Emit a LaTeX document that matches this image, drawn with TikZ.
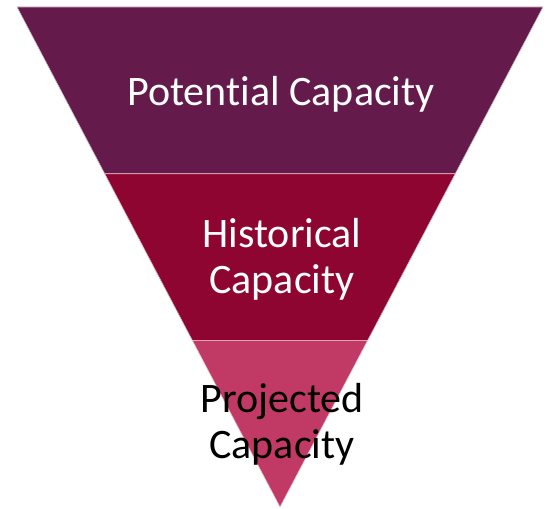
\documentclass[tikz,border=0pt]{standalone}
\usepackage{fontspec}
\setmainfont[Ligatures=NoCommon]{Carlito}
\usepackage{tikz}

\definecolor{bandtop}{RGB}{100,26,74}
\definecolor{bandmid}{RGB}{142,5,50}
\definecolor{bandlow}{RGB}{193,58,102}

\begin{document}
\begin{tikzpicture}[x=1pt, y=-1pt,
    label/.style={font=\fontsize{42}{46}\selectfont, align=center, inner sep=0pt}]
            \useasboundingbox (0,0) rectangle (548,508);
            % funnel bands
            \filldraw[fill=bandtop, draw=white!70!bandtop, line width=0.6pt] (17,7) -- (543,7) -- (455.3,173.7) -- (104.7,173.7) -- cycle;
            \filldraw[fill=bandmid, draw=white!70!bandmid, line width=0.6pt] (104.7,173.7) -- (455.3,173.7) -- (367.7,340.3) -- (192.3,340.3) -- cycle;
            \filldraw[fill=bandlow, draw=white!70!bandlow, line width=0.6pt] (192.3,340.3) -- (367.7,340.3) -- (280,507) -- cycle;

            \node (pot) at (281,94) [label, text=white] {Potential Capacity};
            \node (his) at (282,259) [label, text=white] {Historical\\Capacity};
            \node (pro) at (282,424) [label, text=black] {Projected\\Capacity};
        \end{tikzpicture}
\end{document}
